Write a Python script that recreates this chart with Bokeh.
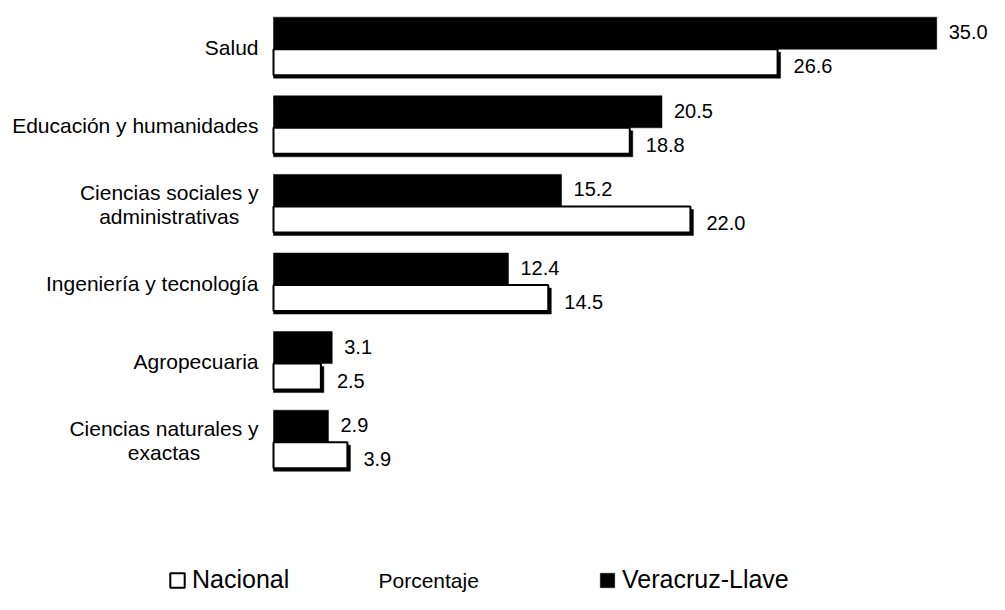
from bokeh.plotting import figure
from bokeh.models import Range1d, ColumnDataSource, Legend, LegendItem, Label
from bokeh.core.properties import value
from bokeh.transform import dodge
from bokeh.embed import file_html
from bokeh.resources import INLINE

categories = ["Salud", "Educación y humanidades", "Ciencias sociales y\nadministrativas",
              "Ingeniería y tecnología", "Agropecuaria", "Ciencias naturales y\nexactas"]
veracruz = [35.0, 20.5, 15.2, 12.4, 3.1, 2.9]
nacional = [26.6, 18.8, 22.0, 14.5, 2.5, 3.9]
series_names = ["Nacional", "Veracruz-Llave"]
axis_title = "Porcentaje"

FONT = "Liberation Sans"
LABEL_PX = 21
W, H = 989, 594
PX_X = 18.95   # px per percentage point
X0 = 273       # canvas px of x = 0
PX_Y = 78.6    # px per category band
Y0 = 46.7      # canvas px of first band centre
LINE_GAP = 24  # px between lines of a category label

# Arial / Liberation Sans advance widths (per 1000 em) for centring label lines
ADV = {"S": 667, "a": 556, "l": 222, "u": 556, "d": 556, "E": 667, "c": 500, "ó": 556,
       "n": 556, " ": 278, "y": 500, "h": 556, "m": 833, "i": 222, "e": 556, "s": 500,
       "C": 722, "o": 556, "t": 278, "r": 333, "v": 500, "I": 278, "g": 556, "í": 278,
       "p": 556, "q": 556, "x": 500, "A": 667}


def text_w(s):
    return sum(ADV.get(ch, 556) for ch in s) / 1000 * LABEL_PX


x_range = Range1d(-X0 / PX_X, (W - X0) / PX_X)
y_range = Range1d((H - Y0) / PX_Y, -Y0 / PX_Y)

p = figure(width=W, height=H, x_range=x_range, y_range=y_range,
           x_axis_location=None, y_axis_location=None,
           output_backend="svg", toolbar_location=None, min_border=0)
p.grid.visible = False
p.outline_line_color = None
p.background_fill_color = "white"
p.border_fill_color = "white"

pos = list(range(len(categories)))
src = ColumnDataSource(dict(
    cat=categories, pos=pos, ver=veracruz, nac=nacional,
    ver_lbl=[f"{v:.1f}" for v in veracruz],
    nac_lbl=[f"{v:.1f}" for v in nacional],
))

# Veracruz (black) bars
ver_r = p.hbar(y=dodge("pos", -14 / PX_Y, range=p.y_range), left=0, right="ver",
               height=32 / PX_Y, source=src, fill_color="black", line_color="black",
               line_width=0.5)
# Nacional: shadow + white bars
p.hbar(y=dodge("pos", 18 / PX_Y, range=p.y_range), left=0,
       right=dodge("nac", 3 / PX_X, range=p.x_range),
       height=26 / PX_Y, source=src, fill_color="black", line_color="black", line_width=0.5)
nac_r = p.hbar(y=dodge("pos", 15 / PX_Y, range=p.y_range), left=0, right="nac",
               height=26 / PX_Y, source=src, fill_color="white", line_color="black",
               line_width=2)

# value labels
p.text(x="ver", y=dodge("pos", -14 / PX_Y, range=p.y_range), text="ver_lbl", source=src,
       x_offset=12, y_offset=-1, text_align="left", text_baseline="middle",
       text_font=value(FONT), text_font_size="20px", text_color="black")
p.text(x="nac", y=dodge("pos", 15 / PX_Y, range=p.y_range), text="nac_lbl", source=src,
       x_offset=16, y_offset=4, text_align="left", text_baseline="middle",
       text_font=value(FONT), text_font_size="20px", text_color="black")

# category labels: block right-aligned, lines centred within block
lx, ly, lt, lxo, lyo = [], [], [], [], []
for i, cat in enumerate(categories):
    lines = cat.split("\n")
    maxw = max(text_w(s) for s in lines)
    n = len(lines)
    for k, s in enumerate(lines):
        lx.append(0)
        ly.append(pos[i])
        lt.append(s)
        lxo.append(-15 - (maxw - text_w(s)) / 2)
        lyo.append((k - (n - 1) / 2) * LINE_GAP)
lsrc = ColumnDataSource(dict(x=lx, y=ly, t=lt, xo=lxo, yo=lyo))
p.text(x="x", y="y", text="t", x_offset="xo", y_offset="yo", source=lsrc,
       text_align="right", text_baseline="middle",
       text_font=value(FONT), text_font_size=f"{LABEL_PX}px", text_color="black")

# axis title
p.add_layout(Label(x=378, y=3, x_units="screen", y_units="screen", text=axis_title,
                   text_font=FONT, text_font_size="21px", text_baseline="bottom",
                   text_color="black"))


def make_legend(name, rend, loc):
    lg = Legend(items=[LegendItem(label=name, renderers=[rend])], location=loc,
                orientation="horizontal", label_text_font=FONT, label_text_font_size="25px",
                label_text_color="black", glyph_width=18, glyph_height=18, label_standoff=6,
                padding=0, margin=0, spacing=0, border_line_color=None,
                background_fill_alpha=0)
    p.add_layout(lg)


make_legend(series_names[0], nac_r, (168, 0))
make_legend(series_names[1], ver_r, (598, 0))

open("out.html", "w").write(file_html(p, INLINE))
